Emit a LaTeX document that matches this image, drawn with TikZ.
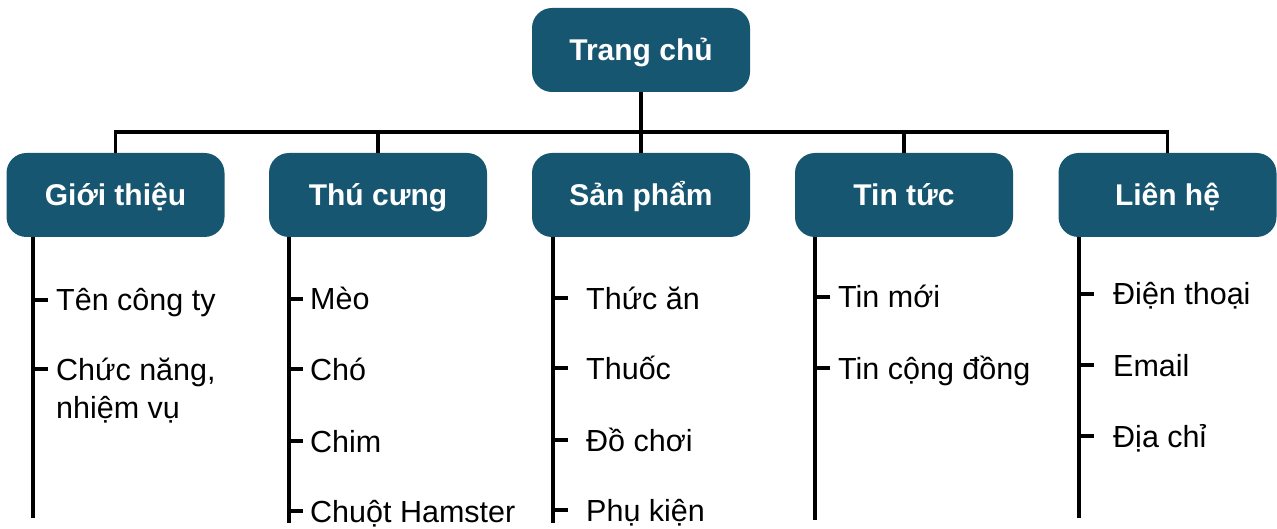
\documentclass[tikz,border=0pt]{standalone}
\usepackage{fontspec}
\setmainfont{Liberation Sans}
\definecolor{boxblue}{HTML}{175670}

\begin{document}
\begin{tikzpicture}[x=1pt,y=-1pt,
        box/.style={fill=boxblue,text=white,rounded corners=20pt,
            minimum width=218pt,minimum height=84pt,text height=22pt,text depth=0pt,
            font=\bfseries\fontsize{30}{36}\selectfont},
        leaf/.style={anchor=west,inner sep=0pt,text height=22pt,text depth=0pt,
            font=\fontsize{30.5}{36}\selectfont},
        conn/.style={line width=3.2pt}]
        \useasboundingbox (0,0) rectangle (1277,529);
        % boxes
        \node[box] (top) at (641,50) {Trang chủ};
        \node[box] (gt) at (115.5,195) {Giới thiệu};
        \node[box] (tc) at (378,195) {Thú cưng};
        \node[box] (sp) at (641,195) {Sản phẩm};
        \node[box] (tt) at (904,195) {Tin tức};
        \node[box] (lh) at (1167.5,195) {Liên hệ};
        % bar between the levels
        \coordinate (bar) at (0,132);
        \draw[conn] (top.south) -- (top.south |- bar);
        \draw[conn] (gt.north) -- (gt.north |- bar) -- (lh.north |- bar) -- (lh.north);
        \foreach \n in {tc,sp,tt}
            \draw[conn] (\n.north |- bar) -- (\n.north);
        % spines
        \coordinate (gt-end) at (33,518);
        \coordinate (tc-end) at (289,523);
        \coordinate (sp-end) at (553,523);
        \coordinate (tt-end) at (815,520);
        \coordinate (lh-end) at (1079,518);
        \foreach \n in {gt,tc,sp,tt,lh}
            \draw[conn] (\n.south -| \n-end) -- (\n-end);
        % leaves
        \node[leaf] (gt1) at (56,300) {Tên công ty};
        \node[leaf] (gt2) at (56,369) {Chức năng,};
        \node[leaf] (gt3) at (56,407) {nhiệm vụ};
        \foreach \i in {1,2}
            \draw[conn] (gt-end |- gt\i.west) -- ++(15,0);
        \foreach \t/\y [count=\i] in {Mèo/299,Chó/369,Chim/441,Chuột Hamster/511} {
            \node[leaf] (tc\i) at (310,\y) {\t};
            \draw[conn] (tc-end |- tc\i.west) -- ++(14,0);
        }
        \foreach \t/\y [count=\i] in {Thức ăn/298,Thuốc/368,Đồ chơi/440,Phụ kiện/510} {
            \node[leaf] (sp\i) at (586,\y) {\t};
            \draw[conn] (sp-end |- sp\i.west) -- ++(15,0);
        }
        \foreach \t/\y [count=\i] in {Tin mới/297,Tin cộng đồng/368} {
            \node[leaf] (tt\i) at (838,\y) {\t};
            \draw[conn] (tt-end |- tt\i.west) -- ++(15,0);
        }
        \foreach \t/\y [count=\i] in {Điện thoại/294,Email/365,Địa chỉ/436} {
            \node[leaf] (lh\i) at (1113,\y) {\t};
            \draw[conn] (lh-end |- lh\i.west) -- ++(15,0);
        }
    \end{tikzpicture}
\end{document}
